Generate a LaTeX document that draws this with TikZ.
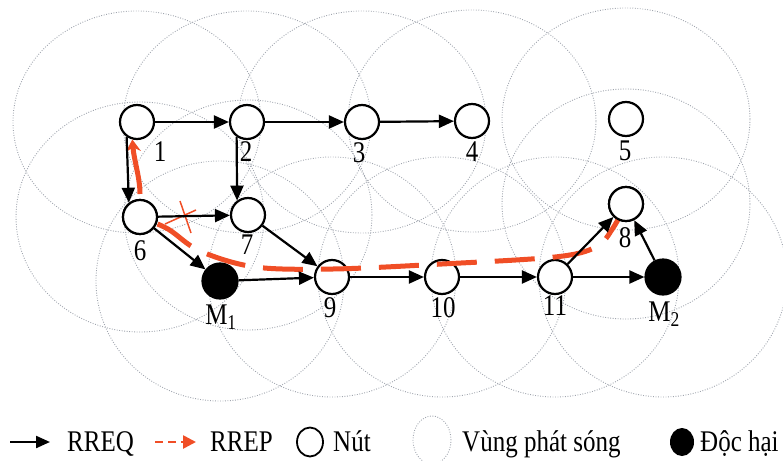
\documentclass[tikz,border=0pt]{standalone}
\usepackage{fontspec}
\setmainfont{Liberation Serif}
\usetikzlibrary{arrows.meta,shapes.geometric}
\definecolor{rrepred}{RGB}{240,78,38}
\definecolor{covgray}{RGB}{160,165,174}
\begin{document}
\begin{tikzpicture}[x=1pt,y=-1pt,
  cov/.style={draw=covgray, line width=0.9pt, dash pattern=on 0.9pt off 1.6pt},
  nd/.style={circle, draw, line width=2.2pt, fill=white, minimum size=34pt, inner sep=0pt},
  mal/.style={circle, draw, line width=2.2pt, fill=black, minimum size=35pt, inner sep=0pt},
  lbl/.style={font=\fontsize{25}{30}\selectfont, inner sep=0pt, yscale=1.2, transform shape},
  leg/.style={font=\fontsize{25}{30}\selectfont, inner sep=0pt, anchor=base west, yscale=1.2, transform shape},
  req/.style={line width=2.2pt, -{Triangle[length=15pt,width=13pt]}},
  rep/.style={rrepred, line width=5pt, dash pattern=on 40pt off 18pt},
]
\useasboundingbox (0,0) rectangle (783,460);
\clip (0,0) rectangle (783,460);

% node positions
\coordinate (c1) at (137,122);
\coordinate (c2) at (247,122);
\coordinate (c3) at (362,122);
\coordinate (c4) at (472,121);
\coordinate (c5) at (626,119);
\coordinate (c6) at (140,217);
\coordinate (c7) at (248,215);
\coordinate (c8) at (626,204);
\coordinate (cm1) at (220,281);
\coordinate (c9) at (332,277);
\coordinate (c10) at (442,277);
\coordinate (c11) at (555,277);
\coordinate (cm2) at (663,277);

% coverage areas
\foreach \c in {c1,c2,c3,c4,c5}
  \draw[cov] (\c) ellipse [x radius=124pt, y radius=111pt];
\foreach \c in {c6,c7,c8}
  \draw[cov] (\c) ellipse [x radius=124pt, y radius=115pt];
\foreach \c in {cm1,c9,c10,c11,cm2}
  \draw[cov] (\c) ellipse [x radius=124pt, y radius=120pt];

% nodes
\node[nd] (n1) at (c1) {};
\node[nd] (n2) at (c2) {};
\node[nd] (n3) at (c3) {};
\node[nd] (n4) at (c4) {};
\node[nd] (n5) at (c5) {};
\node[nd] (n6) at (c6) {};
\node[nd] (n7) at (c7) {};
\node[nd] (n8) at (c8) {};
\node[mal] (m1) at (cm1) {};
\node[nd] (n9) at (c9) {};
\node[nd] (n10) at (c10) {};
\node[nd] (n11) at (c11) {};
\node[mal] (m2) at (cm2) {};

% RREP path
\draw[rep] plot[smooth, tension=0.55] coordinates {(n8.center) (613,228) (596,247) (555,257) (442,264) (333,269) (255,267) (200,251) (168,229) (n6.center)};
\draw[rrepred, line width=5pt, shorten <=23pt, -{Stealth[length=12pt,width=15pt,inset=4pt]}]
  (n6.center) .. controls (140,178) and (134,160) .. (n1.255);

% redraw nodes 6 and 8 on top of the red path
\node[nd] (n8b) at (c8) {};
\node[nd] (n6b) at (c6) {};

% broken link mark
\draw[rrepred, line width=1.5pt] (165,224) -- (196,210);
\draw[rrepred, line width=1.5pt] (180,201) -- (191,233);

% RREQ
\draw[req] (n1) -- (n2);
\draw[req] (n2) -- (n3);
\draw[req] (n3) -- (n4);
\draw[req] (n1.235) -- (n6.128);
\draw[req] (n2.235) -- (n7.127);
\draw[req] (n6) -- (n7);
\draw[req] (n6) -- (m1);
\draw[req] (n7) -- (n9);
\draw[req] (m1) -- (n9);
\draw[req] (n9) -- (n10);
\draw[req] (n10) -- (n11);
\draw[req] (n11) -- (m2);
\draw[req] (n11) -- (n8);
\draw[req] (m2) -- (n8);

% labels
\node[lbl] (l1) at (160,152) {1};
\node[lbl] (l2) at (246,152) {2};
\node[lbl] (l3) at (359,153) {3};
\node[lbl] (l4) at (472,152) {4};
\node[lbl] (l5) at (625,151) {5};
\node[lbl] (l6) at (140,251) {6};
\node[lbl] (l7) at (247,245) {7};
\node[lbl] (l8) at (625,238) {8};
\node[lbl] (l9) at (330,308) {9};
\node[lbl] (l10) at (443,308) {10};
\node[lbl] (l11) at (555,306) {11};
\node[lbl] (lm1) at (221,317) {M\textsubscript{1}};
\node[lbl] (lm2) at (664,314) {M\textsubscript{2}};

% legend
\coordinate (a1s) at (10,442);
\coordinate (a1e) at (50,442);
\draw[line width=2.2pt, -{Triangle[length=14pt,width=12pt]}] (a1s) -- (a1e);
\node[leg] (t1) at (67,451) {RREQ};
\coordinate (a2s) at (155,442);
\coordinate (a2e) at (196,442);
\draw[rrepred, line width=2.6pt, dash pattern=on 8pt off 5pt, -{Triangle[length=13pt,width=13pt]}] (a2s) -- (a2e);
\node[leg] (t2) at (210,451) {RREP};
\node[draw, line width=1.8pt, ellipse, minimum width=26pt, minimum height=29pt, inner sep=0pt] (k1) at (310,442) {};
\node[leg] (t3) at (333,451) {Nút};
\node[cov, ellipse, minimum width=38pt, minimum height=48pt, inner sep=0pt] (k2) at (432,440) {};
\node[leg] (t4) at (462,451) {Vùng phát sóng};
\node[fill=black, ellipse, minimum width=24pt, minimum height=28pt, inner sep=0pt] (k3) at (682,442) {};
\node[leg] (t5) at (700,451) {Độc hại};
\end{tikzpicture}
\end{document}
